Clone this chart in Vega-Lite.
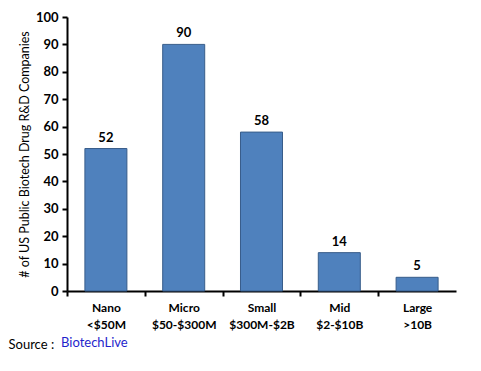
{
  "$schema": "https://vega.github.io/schema/vega-lite/v6.json",
  "autosize": {"type": "none"},
  "width": 389,
  "height": 274,
  "padding": {"left": 67, "top": 17, "right": 25, "bottom": 80},
  "background": "white",
  "config": {"view": {"stroke": null}, "font": "Lato"},
  "title": {
    "text": "BiotechLive",
    "orient": "bottom",
    "anchor": "start",
    "frame": "group",
    "dx": -6,
    "offset": -14,
    "color": "#1F1FCC",
    "fontSize": 13,
    "fontWeight": "normal",
    "font": "Lato"
  },
  "data": {
    "values": [
      {"cat": "Nano|<$50M", "n": 52},
      {"cat": "Micro|$50-$300M", "n": 90},
      {"cat": "Small|$300M-$2B", "n": 58},
      {"cat": "Mid|$2-$10B", "n": 14},
      {"cat": "Large|>10B", "n": 5}
    ]
  },
  "encoding": {
    "x": {
      "field": "cat",
      "type": "nominal",
      "sort": null,
      "scale": {"paddingInner": 0.46, "paddingOuter": 0.23},
      "axis": {
        "labelAngle": 0,
        "labelExpr": "split(datum.label, '|')",
        "labelFont": "Lato",
        "labelFontWeight": "bold",
        "labelFontSize": 12,
        "labelColor": "#000000",
        "labelLineHeight": 17,
        "labelPadding": 6,
        "domainColor": "#000000",
        "domainWidth": 2,
        "tickColor": "#000000",
        "tickWidth": 2,
        "tickSize": 5,
        "tickOffset": -39,
        "labelOffset": 39,
        "title": "Source :",
        "titleFont": "Lato",
        "titleFontWeight": "normal",
        "titleFontSize": 13,
        "titleColor": "#000000",
        "titleAnchor": "start",
        "titleAlign": "left",
        "titleBaseline": "middle",
        "titleX": -59,
        "titleY": 53
      }
    },
    "y": {
      "field": "n",
      "type": "quantitative",
      "scale": {"domain": [0, 100]},
      "axis": {
        "values": [0, 10, 20, 30, 40, 50, 60, 70, 80, 90, 100],
        "grid": false,
        "labelFont": "Lato",
        "labelFontWeight": "bold",
        "labelFontSize": 13,
        "labelColor": "#000000",
        "labelPadding": 4,
        "domainColor": "#000000",
        "domainWidth": 2,
        "tickColor": "#000000",
        "tickWidth": 2,
        "tickSize": 5,
        "title": "# of US Public Biotech Drug R&D Companies",
        "titleFont": "Lato",
        "titleFontWeight": "normal",
        "titleFontSize": 12.5,
        "titleColor": "#000000",
        "titlePadding": 4
      }
    }
  },
  "layer": [
    {"mark": {"type": "bar", "color": "#4F81BD", "stroke": "#385D8A", "strokeWidth": 1}},
    {
      "mark": {"type": "text", "dy": -11, "fontWeight": "bold", "fontSize": 13, "font": "Lato", "color": "#000000"},
      "encoding": {"text": {"field": "n", "type": "quantitative"}}
    }
  ]
}
